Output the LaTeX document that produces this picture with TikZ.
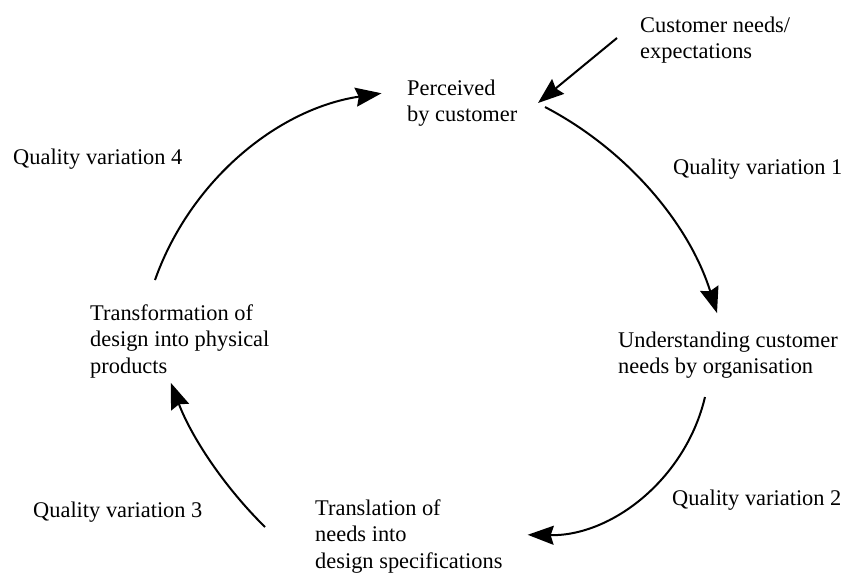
\documentclass[tikz,border=0pt]{standalone}
\usepackage{fontspec}
\setmainfont{Liberation Serif}
\usetikzlibrary{arrows.meta}
\tikzset{
  lbl/.style={anchor=north west, inner sep=0pt, align=left, font=\fontsize{22.4}{26.5}\selectfont},
  flow/.style={line width=2pt, -{Stealth[length=26pt,width=19pt,inset=3pt]}}
}
\begin{document}
\begin{tikzpicture}[x=1pt,y=-1pt]
\useasboundingbox (0,0) rectangle (845,575);
\node[lbl] (cust) at (640,16.5) {Customer needs/\\expectations};
\node[lbl] (perc) at (407,79.5) {Perceived\\by customer};
\node[lbl] (qv1) at (673,158.5) {Quality variation 1};
\node[lbl] (und) at (618,331.5) {Understanding customer\\needs by organisation};
\node[lbl] (qv2) at (672,489.5) {Quality variation 2};
\node[lbl] (trans) at (315,499.5) {Translation of\\needs into\\design specifications};
\node[lbl] (qv3) at (33,501.5) {Quality variation 3};
\node[lbl] (tform) at (90,304.5) {Transformation of\\design into physical\\products};
\node[lbl] (qv4) at (13,148.5) {Quality variation 4};
% connector start points
\coordinate (cs) at (617,38);
\coordinate (ce) at (538,103);
\coordinate (a1s) at (545,107);
\coordinate (a2s) at (705,397);
\coordinate (a3s) at (265,527);
\coordinate (a4s) at (155,280);
\draw[flow] (cs) -- (ce);
\draw[flow] (a1s) arc[start angle=-62.4, end angle=-17.3, radius=350];
\draw[flow] (a2s) arc[start angle=13.3, end angle=91, radius=179];
\draw[flow] (a3s) arc[start angle=134.6, end angle=159.1, radius=406];
\draw[flow] (a4s) arc[start angle=199.5, end angle=261.5, radius=285];
\end{tikzpicture}
\end{document}
